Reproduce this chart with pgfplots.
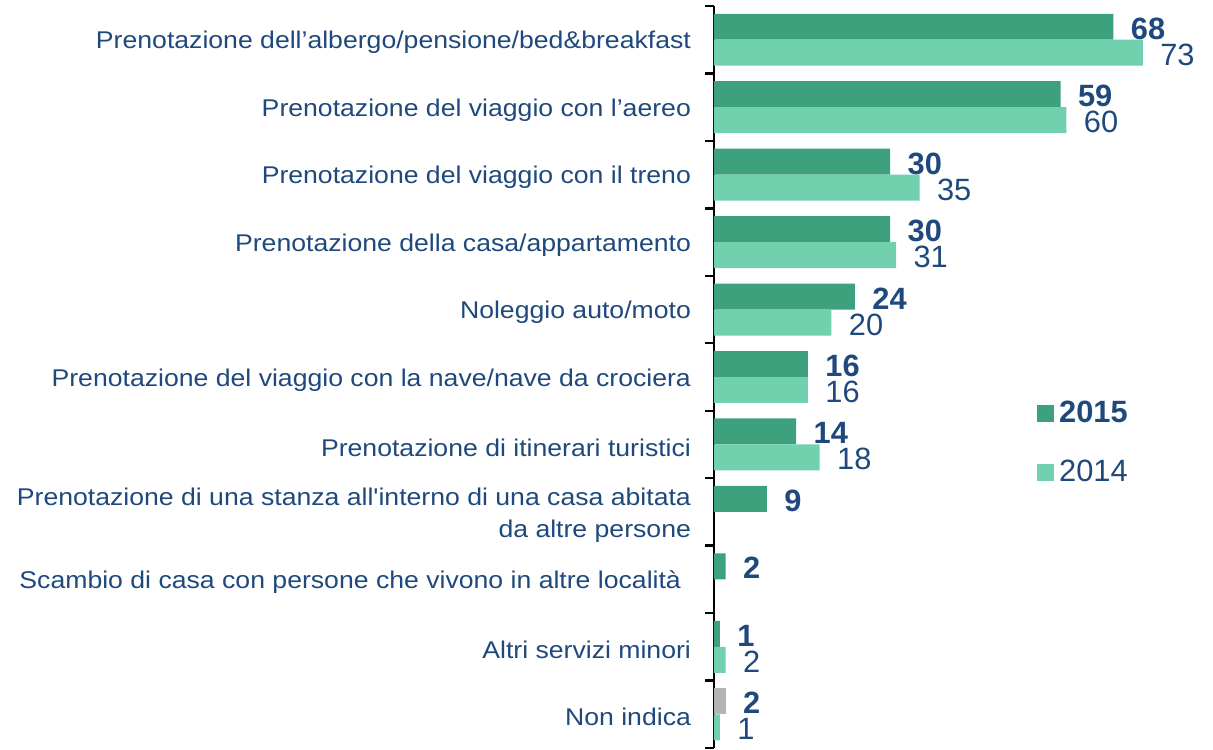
\documentclass[border=0pt]{standalone}
\usepackage{pgfplots}
\pgfplotsset{compat=1.18}
\usepackage{fontspec}
\setmainfont{Liberation Sans}
\newfontfamily\labfont{Liberation Sans}[FakeStretch=1.1]
\definecolor{cdark}{RGB}{61,161,126}
\definecolor{clight}{RGB}{113,208,173}
\definecolor{cgrey}{RGB}{180,180,180}
\definecolor{cblue}{RGB}{31,73,125}
\begin{document}
\begin{tikzpicture}
\begin{axis}[
  scale only axis,
  width=235pt, height=371pt,
  xmin=0, xmax=80,
  ymin=-0.5, ymax=10.5,
  y dir=reverse,
  axis y line*=left,
  axis x line=none,
  y axis line style={line width=1.2pt},
  xbar,
  bar width=0.385,
  ytick={0,...,10},
  yticklabels={
    {Prenotazione dell’albergo/pensione/bed\&breakfast},
    {Prenotazione del viaggio con l’aereo},
    {Prenotazione del viaggio con il treno},
    {Prenotazione della casa/appartamento},
    {Noleggio auto/moto},
    {Prenotazione del viaggio con la nave/nave da crociera},
    {Prenotazione di itinerari turistici},
    {Prenotazione di una stanza all'interno di una casa abitata\\da altre persone},
    {Scambio di casa con persone che vivono in altre località\hspace{5pt}},
    {Altri servizi minori},
    {Non indica}},
  yticklabel style={font=\labfont\fontsize{12.1}{16}\selectfont, text=cblue, align=right, xshift=-8pt, yshift=-1.5pt},
  major tick length=0pt,
  minor ytick={-0.5,0.5,...,10.5},
  minor tick length=4.5pt,
  tick align=outside,
  minor tick style={line width=1.2pt, black},
  point meta=x,
  nodes near coords,
  nodes near coords style={text=cblue, anchor=west, inner sep=0pt, text height=11pt, text depth=0pt, xshift=8.5pt, yshift=-0.75pt, /pgf/number format/fixed, /pgf/number format/precision=0, /pgf/number format/assume math mode=true},
  clip=false,
  legend style={at={(0.674,0.48)}, anchor=north west, draw=none, fill=none,
    font=\fontsize{15.4}{18}\selectfont, text=cblue, row sep=12pt,
    cells={anchor=west}, nodes={inner sep=2.5pt}},
]
\addplot[fill=cdark, draw=none, bar shift=-0.1925,
  nodes near coords style={font=\fontsize{15.4}{18}\selectfont\bfseries},
  legend image code/.code={\fill[cdark] (0pt,-4.25pt) rectangle (8.5pt,4.25pt);}]
  coordinates {(68,0) (59,1) (30,2) (30,3) (24,4) (16,5) (14,6) (9,7) (2,8) (1,9)};
\addplot[fill=clight, draw=none, bar shift=0.1925,
  nodes near coords style={font=\fontsize{15.4}{18}\selectfont},
  legend image code/.code={\fill[clight] (0pt,-4.25pt) rectangle (8.5pt,4.25pt);}]
  coordinates {(73,0) (60,1) (35,2) (31,3) (20,4) (16,5) (18,6) (2,9) (1,10)};
\addplot[fill=cgrey, draw=none, bar shift=-0.1925, forget plot,
  nodes near coords style={font=\fontsize{15.4}{18}\selectfont\bfseries}]
  coordinates {(2,10)};
\legend{\textbf{2015},2014}
\end{axis}
\path (current axis.south west) ++(-357pt,-0.5pt) coordinate (bl);
\path (current axis.north east) ++(14.5pt,3pt) coordinate (tr);
\path (bl) rectangle (tr);
\end{tikzpicture}
\end{document}
